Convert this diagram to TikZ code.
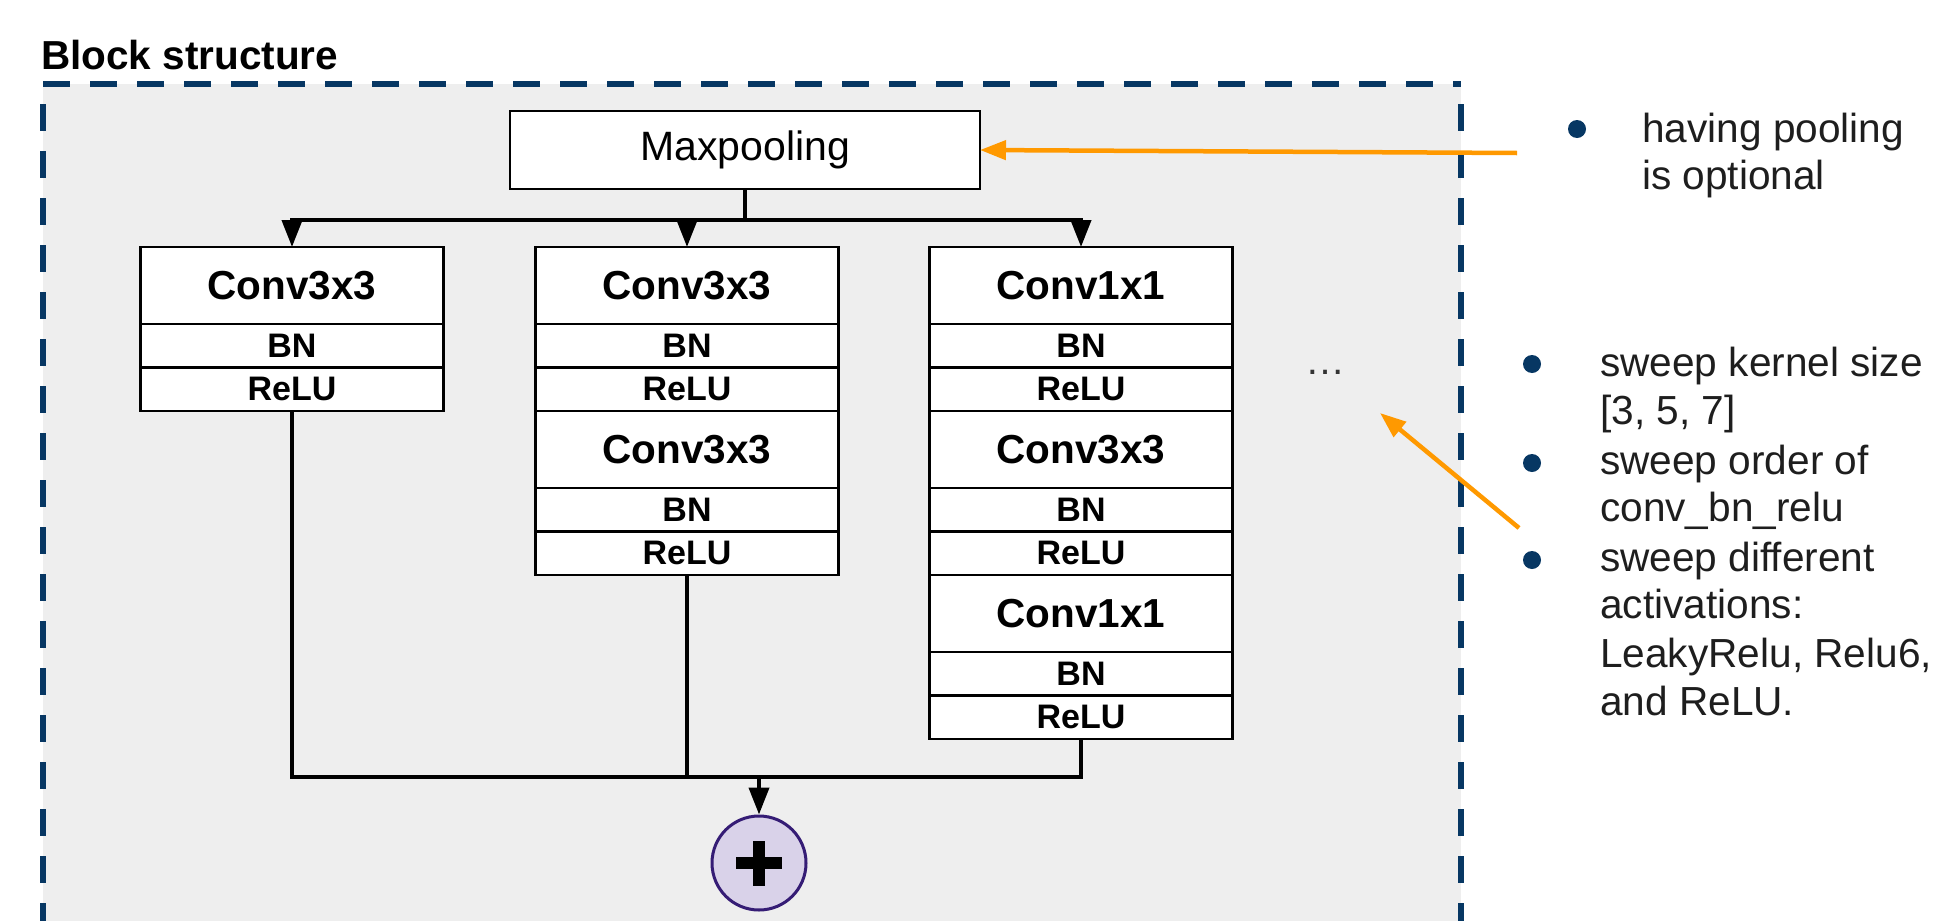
\documentclass[tikz,border=0pt]{standalone}
\usepackage{fontspec}
\setmainfont{Liberation Sans}
\usetikzlibrary{arrows.meta}
\definecolor{panelgray}{HTML}{EEEEEE}
\definecolor{borderblue}{HTML}{073763}
\definecolor{notearrow}{HTML}{FF9900}
\definecolor{sumfill}{HTML}{D9D2E9}
\definecolor{sumline}{HTML}{351C75}
\definecolor{notetextcol}{HTML}{1E1E1E}

\begin{document}
\begin{tikzpicture}[x=1pt,y=-1pt,
  cell/.style={draw=black, fill=white, line width=2.5pt, minimum width=303pt,
    inner sep=0pt, outer sep=0pt, anchor=north},
  convcell/.style={cell, minimum height=77pt, font=\fontsize{40.5}{48}\selectfont\bfseries},
  smallcell/.style={cell, minimum height=43.5pt, font=\fontsize{34}{40}\selectfont\bfseries},
  poolbox/.style={draw=black, fill=white, line width=2.5pt, minimum width=470pt,
    minimum height=78pt, inner sep=0pt, outer sep=0pt, font=\fontsize{41}{48}\selectfont},
  conn/.style={line width=4pt, draw=black},
  tip/.style={-{Triangle[length=27pt,width=20pt]}},
  note/.style={line width=4.5pt, draw=notearrow, -{Triangle[length=26pt,width=19pt]}},
  notetext/.style={anchor=base west, inner sep=0pt, text=notetextcol,
    font=\fontsize{40.6}{47}\selectfont},
  bulletdot/.style={circle, fill=borderblue, minimum size=18pt, inner sep=0pt},
  border/.style={draw=borderblue, line width=5.5pt, dash pattern=on 27pt off 20pt}
]
\useasboundingbox (0,0) rectangle (1938,921);
\clip (0,0) rectangle (1938,921);

% panel
\fill[panelgray] (43,84) rectangle (1461,921);
\draw[border] (43,84) -- (1461,84);
\draw[border, dash phase=27pt] (43,84) -- (43,921);
\draw[border, dash phase=27pt] (1461,84) -- (1461,921);
\node[anchor=base west, inner sep=0pt, font=\fontsize{40.5}{48}\selectfont\bfseries]
  (title) at (41,69) {Block structure};

% pooling
\node[poolbox] (mp) at (745,150) {Maxpooling};

% branch 1
\node[convcell]  (c1a) at (292,247)   {Conv3x3};
\node[smallcell] (c1b) at (292,324)   {BN};
\node[smallcell] (c1c) at (292,367.5) {ReLU};

% branch 2
\node[convcell]  (c2a) at (687,247)   {Conv3x3};
\node[smallcell] (c2b) at (687,324)   {BN};
\node[smallcell] (c2c) at (687,367.5) {ReLU};
\node[convcell]  (c2d) at (687,411)   {Conv3x3};
\node[smallcell] (c2e) at (687,488)   {BN};
\node[smallcell] (c2f) at (687,531.5) {ReLU};

% branch 3
\node[convcell]  (c3a) at (1081,247)   {Conv1x1};
\node[smallcell] (c3b) at (1081,324)   {BN};
\node[smallcell] (c3c) at (1081,367.5) {ReLU};
\node[convcell]  (c3d) at (1081,411)   {Conv3x3};
\node[smallcell] (c3e) at (1081,488)   {BN};
\node[smallcell] (c3f) at (1081,531.5) {ReLU};
\node[convcell]  (c3g) at (1081,575)   {Conv1x1};
\node[smallcell] (c3h) at (1081,652)   {BN};
\node[smallcell] (c3i) at (1081,695.5) {ReLU};

\node[inner sep=0pt, anchor=base, text=black!80, font=\fontsize{40}{48}\selectfont]
  (more) at (1325,374) {…};

% sum
\node[circle, draw=sumline, fill=sumfill, line width=3pt, minimum size=94pt,
  inner sep=0pt] (sum) at (759,863) {};
\draw[line width=12pt] ([xshift=-23pt]sum.center) -- ([xshift=23pt]sum.center);
\draw[line width=12pt] ([yshift=-22.5pt]sum.center) -- ([yshift=22.5pt]sum.center);

% connectors
\coordinate (split) at (745,220);
\coordinate (merge) at (759,777);
\draw[conn] (mp.south) -- (split);
\draw[conn, tip] (split) -| (c1a.north);
\draw[conn, tip] (split) -| (c2a.north);
\draw[conn, tip] (split) -| (c3a.north);
\draw[conn] (c1c.south) |- (merge);
\draw[conn] (c2f.south) |- (merge);
\draw[conn] (c3i.south) |- (merge);
\draw[conn, tip] (merge) -- (sum.north);

% notes
\node[bulletdot] (b1) at (1577,129) {};
\node[notetext] (n1a) at (1642,142) {having pooling};
\node[notetext] (n1b) at (1642,189) {is optional};

\node[bulletdot] (b2) at (1532,364) {};
\node[notetext] (n2a) at (1600,376) {sweep kernel size};
\node[notetext] (n2b) at (1600,424) {[3, 5, 7]};
\node[bulletdot] (b3) at (1532,463) {};
\node[notetext] (n3a) at (1600,474) {sweep order of};
\node[notetext] (n3b) at (1600,521) {conv\_bn\_relu};
\node[bulletdot] (b4) at (1532,560) {};
\node[notetext] (n4a) at (1600,571) {sweep different};
\node[notetext] (n4b) at (1600,618) {activations:};
\node[notetext] (n4c) at (1600,667) {LeakyRelu, Relu6,};
\node[notetext] (n4d) at (1600,715) {and ReLU.};

\coordinate (poolnote) at (1517,153);
\coordinate (sweepnote) at (1519,528);
\coordinate (sweeptarget) at (1380,413);
\draw[note] (poolnote) -- (mp.east);
\draw[note] (sweepnote) -- (sweeptarget);
\end{tikzpicture}
\end{document}
